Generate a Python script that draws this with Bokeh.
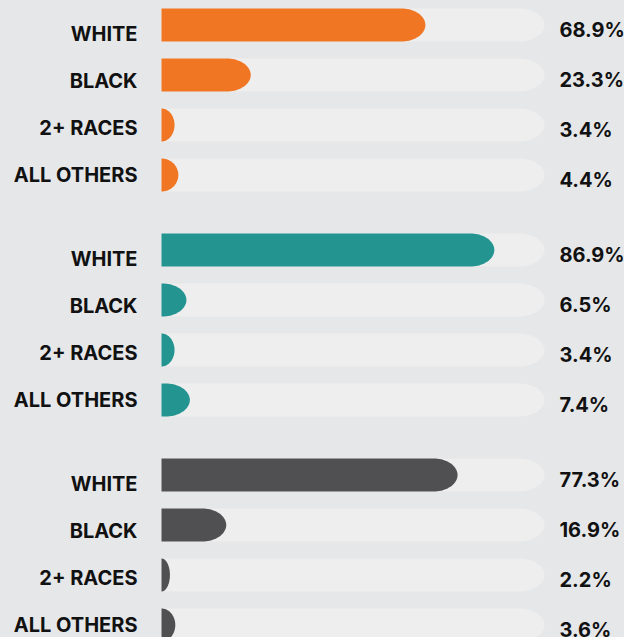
import numpy as np
from bokeh.plotting import figure
from bokeh.models import Range1d, ColumnDataSource
from bokeh.embed import file_html
from bokeh.resources import INLINE
from bokeh.core.properties import value

# ---- data ----
categories = ["WHITE", "BLACK", "2+ RACES", "ALL OTHERS"]
group1_values = [68.9, 23.3, 3.4, 4.4]
group2_values = [86.9, 6.5, 3.4, 7.4]
group3_values = [77.3, 16.9, 2.2, 3.6]
group_colors = ["#F07623", "#239490", "#505052"]

BG = "#E6E7E9"
TRACK = "#EEEEEE"
TEXT = "#111111"

# ---- layout (figure pixels) ----
W, H = 624, 637
PX = 3.83          # pixels per percent
X0 = 161           # pixel position of 0 %
ROW = 50
GROUP = 225
TOP = 24.5
HALF = 16.5

groups = [group1_values, group2_values, group3_values]

p = figure(width=W, height=H, output_backend="svg", toolbar_location=None,
           x_range=Range1d(-X0 / PX, (W - X0) / PX), y_range=Range1d(H, 0),
           x_axis_type=None, y_axis_type=None, min_border=0,
           background_fill_color=BG, border_fill_color=BG, outline_line_color=None)
p.grid.visible = False


def rounded(w, yc, r_px):
    rx = min(r_px / PX, w)
    t = np.linspace(np.pi / 2, -np.pi / 2, 40)
    ax = (w - rx) + rx * np.cos(t)
    ay = yc - HALF * np.sin(t)
    xs = [0.0] + list(ax) + [0.0]
    ys = [yc - HALF] + list(ay) + [yc + HALF]
    return xs, ys


txs, tys, bxs, bys, bcols = [], [], [], [], []
lab_y, lab_t, lab_off, pct_t = [], [], [], []
for g, vals in enumerate(groups):
    for i, (cat, v) in enumerate(zip(categories, vals)):
        yc = TOP + ROW * i + GROUP * g
        xs, ys = rounded(100.0, yc, 26)
        txs.append(xs); tys.append(ys)
        xs, ys = rounded(v, yc, 24)
        bxs.append(xs); bys.append(ys); bcols.append(group_colors[g])
        lab_y.append(yc); lab_t.append(cat); pct_t.append(f"{v:.1f}%")
        lab_off.append(8.5 - 3.0 * i)

p.patches(txs, tys, fill_color=TRACK, line_color=None)
p.patches(bxs, bys, fill_color=bcols, line_color=None)

src = ColumnDataSource(dict(xl=[-24 / PX] * len(lab_y), xr=[398 / PX] * len(lab_y),
                            y=lab_y, lab=lab_t, pct=pct_t, off=lab_off))
font = value("Inter")
p.text(x="xl", y="y", text="lab", source=src, text_align="right",
       text_baseline="middle", y_offset="off", text_font=font, text_font_style="bold",
       text_font_size="20px", text_color=TEXT)
p.text(x="xr", y="y", text="pct", source=src, text_align="left",
       text_baseline="middle", y_offset=4.5, text_font=font, text_font_style="bold",
       text_font_size="20px", text_color=TEXT)

html = file_html(p, INLINE)
html = html.replace("<body>", '<body style="margin:0;background-color:%s;">' % BG)
open("out.html", "w").write(html)
